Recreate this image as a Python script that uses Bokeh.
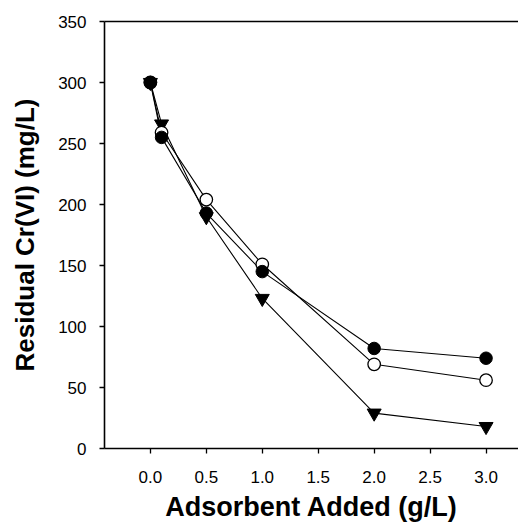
from bokeh.plotting import figure
from bokeh.models import LinearAxis, Range1d, FixedTicker, CustomJSTickFormatter
from bokeh.embed import file_html
from bokeh.resources import INLINE

# Data
dose = [0.0, 0.1, 0.5, 1.0, 2.0, 3.0]
filled_circle = [300, 255, 193, 145, 82, 74]
open_circle = [300, 259, 204, 151, 69, 56]
triangle = [300, 266, 190, 123, 29, 18]

x_ticks = [0.0, 0.5, 1.0, 1.5, 2.0, 2.5, 3.0]
y_ticks = [0, 50, 100, 150, 200, 250, 300, 350]

FONT = "Liberation Sans"

p = figure(width=518, height=531, output_backend="svg", toolbar_location=None,
           x_range=Range1d(-0.41, 3.29), y_range=Range1d(0, 350),
           min_border_left=104, min_border_right=0, min_border_top=21, min_border_bottom=83,
           x_axis_label="Adsorbent Added (g/L)", y_axis_label="Residual Cr(VI) (mg/L)")
p.grid.visible = False
p.outline_line_color = None
p.background_fill_color = "white"
p.border_fill_color = "white"

for ax, ticks in ((p.xaxis[0], x_ticks), (p.yaxis[0], y_ticks)):
    ax.ticker = FixedTicker(ticks=ticks)
    ax.axis_line_color = "black"
    ax.axis_line_width = 1.6
    ax.major_tick_line_color = "black"
    ax.major_tick_line_width = 1.3
    ax.major_tick_in = 0
    ax.major_tick_out = 5
    ax.minor_tick_line_color = None
    ax.major_label_text_font = FONT
    ax.major_label_text_font_size = "17px"
    ax.major_label_text_color = "black"
    ax.axis_label_text_font = FONT
    ax.axis_label_text_font_style = "bold"
    ax.axis_label_text_font_size = "26px"
    ax.axis_label_text_color = "black"

p.xaxis[0].formatter = CustomJSTickFormatter(code="return tick.toFixed(1);")
p.xaxis[0].axis_label_text_font_size = "27px"
p.xaxis[0].major_label_standoff = 17
p.xaxis[0].axis_label_standoff = 6
p.yaxis[0].major_label_standoff = 13
p.yaxis[0].axis_label_standoff = 15

top = LinearAxis(ticker=FixedTicker(ticks=[]), major_label_text_font_size="0px",
                 major_tick_line_color=None, minor_tick_line_color=None,
                 axis_line_color="black", axis_line_width=1.6)
p.add_layout(top, "above")

for ys in (triangle, filled_circle, open_circle):
    p.line(dose, ys, line_color="black", line_width=1.1)

p.scatter(dose, triangle, marker="inverted_triangle", size=14,
          fill_color="black", line_color="black", line_width=1)
p.scatter(dose, open_circle, marker="circle", size=12.5,
          fill_color="white", line_color="black", line_width=1.3)
p.scatter(dose, filled_circle, marker="circle", size=12.5,
          fill_color="black", line_color="black", line_width=1)

open("out.html", "w").write(file_html(p, INLINE))
